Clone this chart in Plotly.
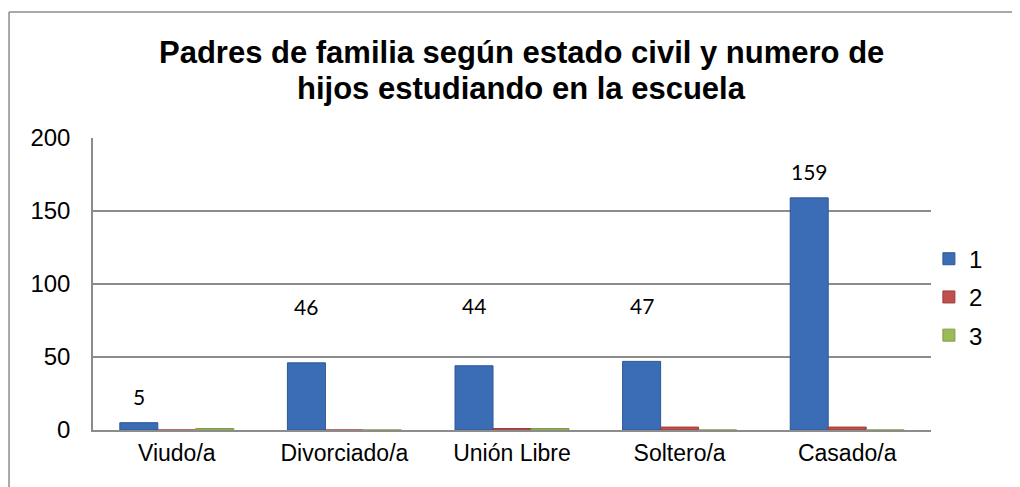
import plotly.graph_objects as go

categories = ["Viudo/a", "Divorciado/a", "Unión Libre", "Soltero/a", "Casado/a"]
series_names = ["1", "2", "3"]
values_1 = [5, 46, 44, 47, 159]
values_2 = [0, 0, 1, 2, 2]
values_3 = [1, 0, 1, 0, 0]
y_ticks = [0, 50, 100, 150, 200]
title_lines = ["Padres de familia según estado civil y numero de",
               "hijos estudiando en la escuela"]

# label pixel offsets above bar tops (style)
label_shift = [26, 56, 60, 56, 26]

colors = ["#3A6DB5", "#C0504D", "#9BBB59"]
lines = ["#2C5797", "#9E3B38", "#7F9C45"]

fig = go.Figure()
for name, vals, c, lc in zip(series_names, [values_1, values_2, values_3], colors, lines):
    fig.add_trace(go.Bar(
        x=categories, y=vals, name=name, legendgroup=name,
        marker=dict(color=c, line=dict(color=lc, width=1)),
        hoverinfo="x+y+name",
    ))

for cat, v, s in zip(categories, values_1, label_shift):
    fig.add_annotation(x=cat, y=v, xref="x", yref="y", text=str(v),
                       showarrow=False, yshift=s, xshift=-38,
                       font=dict(family="Lato, Liberation Sans, sans-serif", size=21, color="#000000"))

fig.add_annotation(x=0.511, y=1.2945, xref="paper", yref="paper", text=title_lines[0],
                   showarrow=False, xanchor="center", yanchor="middle",
                   font=dict(family="Liberation Sans, Arial, sans-serif", size=31, color="#000000", weight=700))
fig.add_annotation(x=0.511, y=1.171, xref="paper", yref="paper", text=title_lines[1],
                   showarrow=False, xanchor="center", yanchor="middle",
                   font=dict(family="Liberation Sans, Arial, sans-serif", size=31, color="#000000", weight=700))

# outer chart border (left and top edges visible)
fig.add_shape(type="line", xref="paper", yref="paper", x0=-0.1002, x1=-0.1002, y0=1.4315, y1=-0.25,
              line=dict(color="#8C8C8C", width=1.5))
fig.add_shape(type="line", xref="paper", yref="paper", x0=-0.1002, x1=1.2, y0=1.4315, y1=1.4315,
              line=dict(color="#8C8C8C", width=1.5))

fig.update_layout(
    width=1020, height=487,
    margin=dict(l=85, r=97, t=130, b=65),
    paper_bgcolor="white", plot_bgcolor="white",
    barmode="group", bargap=0.32, bargroupgap=0,
    font=dict(family="Liberation Sans, Arial, sans-serif", size=23, color="#000000"),
    showlegend=True,
    legend=dict(x=0.9975, y=0.455, xanchor="left", yanchor="middle",
                traceorder="grouped", tracegroupgap=4,
                font=dict(size=24), bgcolor="rgba(0,0,0,0)", itemwidth=30),
    xaxis=dict(showline=True, linecolor="#8C8C8C", linewidth=2, ticks="",
               showgrid=False, ticklabelstandoff=1, tickfont=dict(size=23)),
    yaxis=dict(range=[0, 200], tickvals=y_ticks, showgrid=True, gridcolor="#8C8C8C",
               gridwidth=1.5, showline=True, linecolor="#8C8C8C", linewidth=1.5,
               ticks="", ticklabelstandoff=16, zeroline=False, tickfont=dict(size=24)),
)

fig.write_html("out.html")
